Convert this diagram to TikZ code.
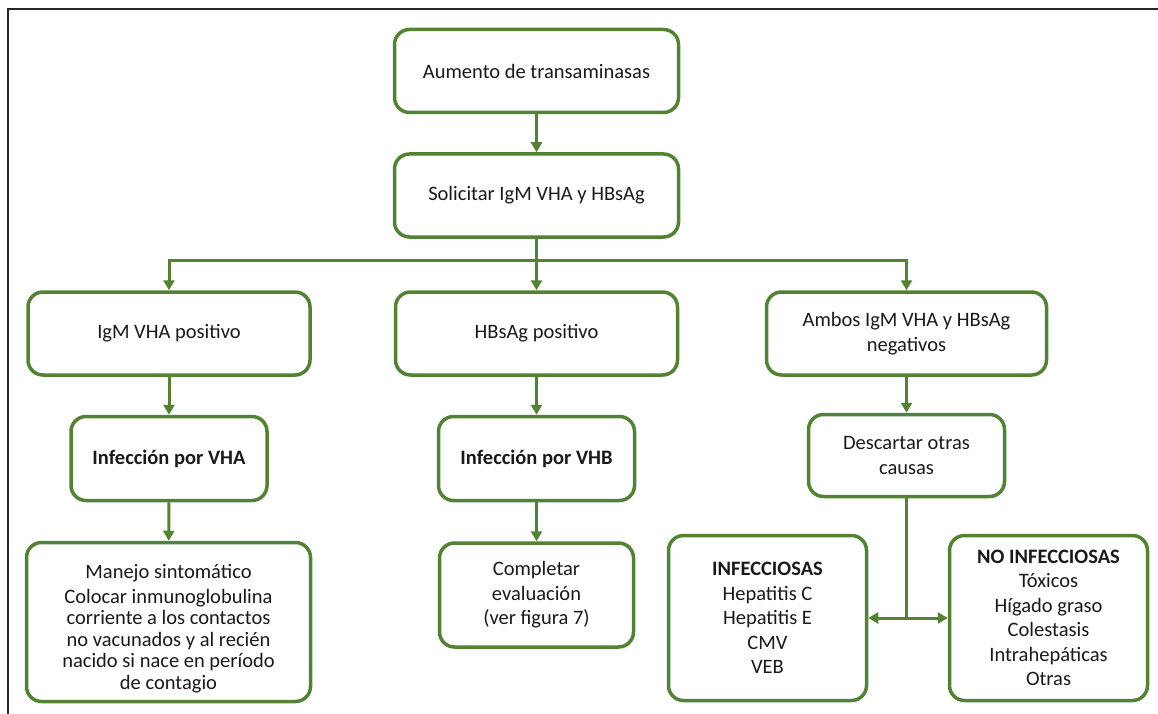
\documentclass[tikz,border=0pt]{standalone}
\usepackage{fontspec}
\setmainfont{Carlito}
\usetikzlibrary{arrows.meta}
\definecolor{grn}{RGB}{84,130,53}
\definecolor{txt}{RGB}{25,25,25}
\begin{document}
\begin{tikzpicture}[x=1pt,y=-1pt,
  box/.style={draw=grn, line width=3.5pt, rounded corners=15pt, align=center, text=txt,
    font=\fontsize{20.5}{24.5}\selectfont, inner sep=2pt},
  arr/.style={draw=grn, line width=3pt, -{Triangle[width=11pt,length=10pt]}},
  ln/.style={draw=grn, line width=3pt},
  frame/.style={draw=black!85, line width=1.5pt}]
\useasboundingbox (0,0) rectangle (1158,714);
\draw[frame] (8,714) -- (8,9) -- (1158,9);

\node[box, minimum width=284pt, minimum height=83pt] (A) at (536.5,71) {Aumento de transaminasas};
\node[box, minimum width=284pt, minimum height=83pt] (B) at (536.5,195.5) {Solicitar IgM VHA y HBsAg};

\node[box, minimum width=282pt, minimum height=83pt] (C) at (169,333.5) {IgM VHA positivo};
\node[box, minimum width=282pt, minimum height=83pt] (D) at (536.5,333.5) {HBsAg positivo};
\node[box, minimum width=280pt, minimum height=83pt] (E) at (906.5,333.5) {Ambos IgM VHA y HBsAg\\negativos};

\node[box, minimum width=196pt, minimum height=84pt] (F) at (169,458.5) {\bfseries Infección por VHA};
\node[box, minimum width=196pt, minimum height=84pt] (G) at (536.5,458.5) {\bfseries Infección por VHB};
\node[box, minimum width=196pt, minimum height=82pt] (H) at (906.5,455.5) {Descartar otras\\causas};

\node[box, minimum width=284pt, minimum height=159pt, font=\fontsize{20.5}{21.5}\selectfont] (I) at (168.5,622)
  {\rule{0pt}{28pt}Manejo sintomático\\[3pt]Colocar inmunoglobulina\\corriente a los contactos\\no vacunados y al recién\\nacido si nace en período\\de contagio};
\node[box, minimum width=194pt, minimum height=104pt] (J) at (536.5,595) {Completar\\evaluación\\(ver figura 7)};
\node[box, minimum width=198pt, minimum height=165pt] (K) at (767.5,618) {\bfseries INFECCIOSAS\\Hepatitis C\\Hepatitis E\\CMV\\VEB};
\node[box, minimum width=198pt, minimum height=165pt] (L) at (1048.5,618) {\bfseries NO INFECCIOSAS\\Tóxicos\\Hígado graso\\Colestasis\\Intrahepáticas\\Otras};

\draw[arr] (A) -- (B);
\coordinate (br) at (536.5,260);
\draw[ln] (B.south) -- (br);
\draw[arr] (br) -- (D.north);
\draw[arr] (br) -| (C.north);
\draw[arr] (br) -| (E.north);

\draw[arr] (C) -- (F);
\draw[arr] (D) -- (G);
\draw[arr] (E) -- (H);
\draw[arr] (F) -- (I);
\draw[arr] (G) -- (J);

\coordinate (j) at (H.south |- K.east);
\draw[ln] (H.south) -- (j);
\draw[arr] (j) -- (K.east);
\draw[arr] (j) -- (L.west);
\end{tikzpicture}
\end{document}
